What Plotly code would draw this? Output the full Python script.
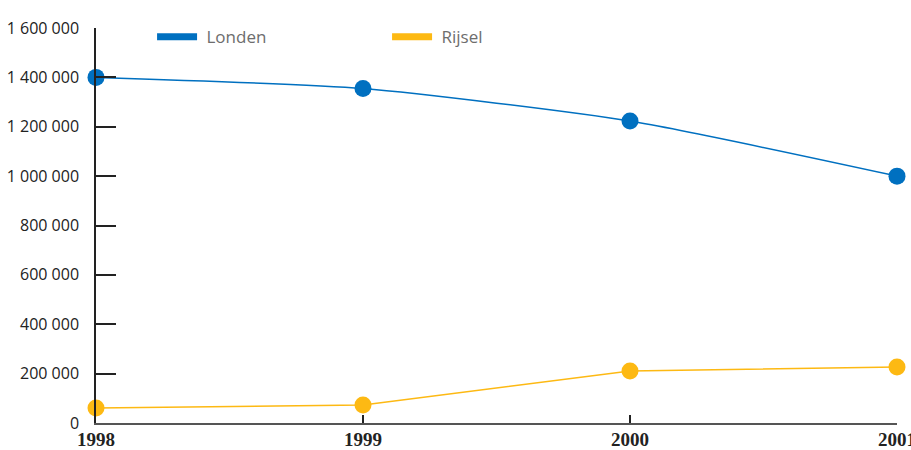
import plotly.graph_objects as go

years = [1998, 1999, 2000, 2001]
londen = [1400000, 1355000, 1223000, 1000000]
rijsel = [61000, 73000, 211000, 227000]
y_ticks = [0, 200000, 400000, 600000, 800000, 1000000, 1200000, 1400000, 1600000]

blue = "#0070C0"
yellow = "#FDB913"

fig = go.Figure()
fig.add_trace(go.Scatter(x=years, y=londen, mode="lines+markers", name="Londen",
                         line=dict(color=blue, width=1.5, shape="spline", smoothing=0.6),
                         marker=dict(size=17, color=blue), showlegend=False, cliponaxis=False))
fig.add_trace(go.Scatter(x=years, y=rijsel, mode="lines+markers", name="Rijsel",
                         line=dict(color=yellow, width=1.5),
                         marker=dict(size=17, color=yellow), showlegend=False, cliponaxis=False))
# legend entries
fig.add_trace(go.Scatter(x=[None], y=[None], mode="lines", name=" Londen",
                         line=dict(color=blue, width=7)))
fig.add_trace(go.Scatter(x=[None], y=[None], mode="lines", name=" Rijsel",
                         line=dict(color=yellow, width=7)))

fig.update_layout(
    width=911, height=450,
    margin=dict(l=96, r=14, t=28, b=27, autoexpand=False),
    paper_bgcolor="white", plot_bgcolor="white",
    separators=", ",
    font=dict(family="Open Sans", color="#222"),
    legend=dict(orientation="h", x=0.07, y=0.977, xanchor="left", yanchor="middle",
                font=dict(family="Open Sans", size=17, color="#6d6d6d"),
                itemwidth=40, tracegroupgap=0, bgcolor="rgba(0,0,0,0)",
                entrywidth=180),
    xaxis=dict(range=[1998, 2001], tickvals=years, ticktext=[str(y) for y in years],
               showgrid=False, zeroline=False, showline=True, linecolor="#555", linewidth=1.5,
               ticks="inside", ticklen=8, tickcolor="#222", tickwidth=1.5,
               tickfont=dict(family="Liberation Serif", size=19, color="#222", weight="bold"),
               ticklabelstandoff=-2,
               ticklabeloverflow="allow", automargin=False, fixedrange=True),
    yaxis=dict(range=[0, 1600000], tickvals=y_ticks, tickformat=",d",
               showgrid=False, zeroline=False, showline=True, linecolor="#222", linewidth=1.5,
               ticks="inside", ticklen=20, tickcolor="#222", tickwidth=1.5,
               tickfont=dict(family="Open Sans", size=16, color="#222"),
               ticklabelstandoff=12, automargin=False, fixedrange=True),
)

fig.write_html("out.html", config={"displayModeBar": False},
               post_script="document.body.style.margin='0';document.body.style.overflow='hidden';")
